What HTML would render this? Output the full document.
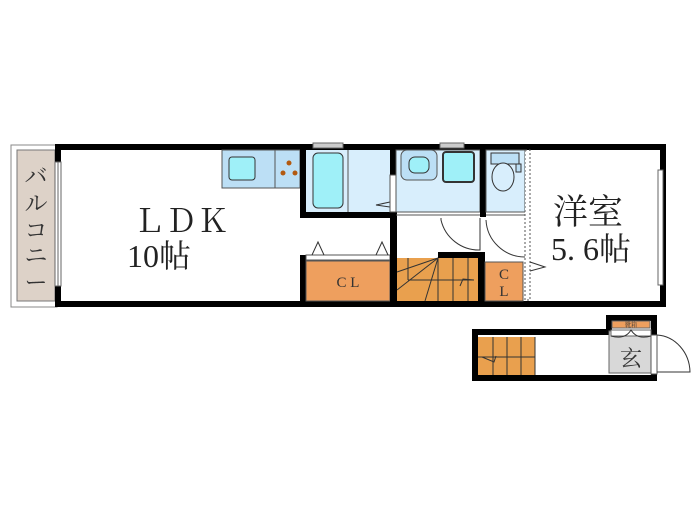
<!DOCTYPE html>
<html><head><meta charset="utf-8"><style>body{margin:0;background:#fff}svg{display:block}text{font-family:"Liberation Serif","Noto Serif CJK SC",serif}</style></head><body>
<svg width="700" height="525" viewBox="0 0 700 525" xmlns="http://www.w3.org/2000/svg">
<rect x="11" y="145" width="46" height="162" fill="#fff" stroke="#888" stroke-width="1"/>
<rect x="17" y="150" width="38" height="151" fill="#ddd2c8" stroke="#777" stroke-width="1"/>
<text font-size="23" fill="#333" text-anchor="middle"><tspan x="36" y="184">バ</tspan><tspan x="36" y="211">ル</tspan><tspan x="36" y="238">コ</tspan><tspan x="36" y="263">ニ</tspan><tspan x="36" y="290">ー</tspan></text>
<rect x="58" y="147" width="605" height="157" fill="#fff" stroke="#000" stroke-width="6"/>
<rect x="55" y="162" width="6" height="124" fill="#fff" stroke="#666" stroke-width="1"/>
<line x1="58" y1="162" x2="58" y2="286" stroke="#666"/>
<rect x="222" y="150" width="78" height="38" fill="#bcdff5" stroke="#555"/>
<line x1="275" y1="150" x2="275" y2="188" stroke="#555"/>
<rect x="229" y="157" width="26" height="23" rx="3" fill="#9ff0f8" stroke="#333"/>
<circle cx="289" cy="163" r="2.5" fill="#b35a10"/><circle cx="283" cy="173" r="2.5" fill="#b35a10"/><circle cx="295" cy="173" r="2.5" fill="#b35a10"/>
<rect x="306" y="150" width="84" height="62" fill="#d8eefc"/>
<rect x="313" y="153" width="30" height="55" rx="5" fill="#9ff0f8" stroke="#333"/>
<line x1="348" y1="150" x2="348" y2="212" stroke="#555"/>
<polyline points="390,207 376,205 390,202" fill="none" stroke="#333"/>
<rect x="300" y="147" width="6" height="70" fill="#000"/>
<rect x="300" y="212" width="97" height="6" fill="#000"/>
<rect x="390" y="147" width="6" height="28" fill="#000"/>
<rect x="390" y="175" width="6" height="37" fill="#fff" stroke="#555"/>
<rect x="396" y="150" width="84" height="62" fill="#d8eefc" stroke="#555"/>
<rect x="401" y="150" width="36" height="30" rx="6" fill="#bcdff5" stroke="#555"/>
<rect x="409" y="157" width="20" height="16" rx="6" fill="#9ff0f8" stroke="#333"/>
<rect x="443" y="152" width="31" height="30" rx="3" fill="#9ff0f8" stroke="#333" stroke-width="2"/>
<rect x="480" y="147" width="6" height="70" fill="#000"/>
<line x1="396" y1="215" x2="480" y2="215" stroke="#555"/>
<rect x="486" y="150" width="39" height="62" fill="#d8eefc" stroke="#555"/>
<rect x="491" y="153" width="28" height="11" fill="#bcdff5" stroke="#333"/>
<ellipse cx="503" cy="177" rx="11" ry="14" fill="#d8eefc" stroke="#333"/>
<rect x="516" y="164" width="5" height="8" fill="#bcdff5" stroke="#333"/>
<rect x="525" y="150" width="5" height="150" fill="#fff" stroke="#555" stroke-dasharray="2,2"/>
<line x1="486" y1="215" x2="525" y2="215" stroke="#555"/>
<path d="M441 218 L441 220 A39 39 0 0 0 480 250 L480 218" fill="none" stroke="#333"/>
<path d="M486 220 A39 39 0 0 0 525 257" fill="none" stroke="#333"/>
<rect x="313" y="143" width="30" height="5" fill="#ccc" stroke="#666"/>
<rect x="440" y="143" width="24" height="5" fill="#ccc" stroke="#666"/>
<rect x="658" y="170" width="5" height="115" fill="#fff" stroke="#666"/>
<rect x="300" y="255" width="6" height="50" fill="#000"/>
<rect x="306" y="255" width="84" height="5" fill="#fff" stroke="#555"/>
<rect x="306" y="261" width="84" height="40" fill="#ee9f5e" stroke="#555"/>
<polyline points="312,255 318,242 324,255" fill="none" stroke="#333"/>
<polyline points="376,255 382,242 388,255" fill="none" stroke="#333"/>
<text x="348" y="287" font-size="15" text-anchor="middle" fill="#333">C L</text>
<rect x="390" y="218" width="7" height="87" fill="#000"/>
<rect x="438" y="252" width="47" height="6" fill="#000"/>
<rect x="397" y="258" width="81" height="43" fill="#e9a04e"/>
<g stroke="#333" stroke-width="1" fill="none"><line x1="438" y1="258" x2="438" y2="301"/><line x1="453" y1="258" x2="453" y2="301"/><line x1="468" y1="258" x2="468" y2="301"/><line x1="408" y1="258" x2="408" y2="280"/><line x1="408" y1="280" x2="474" y2="280"/><line x1="397" y1="272" x2="438" y2="258"/><line x1="397" y1="290" x2="438" y2="258"/><line x1="425" y1="301" x2="438" y2="258"/><polyline points="460,286 463,279 474,280"/></g>
<rect x="478" y="258" width="7" height="47" fill="#000"/>
<rect x="485" y="262" width="38" height="39" fill="#ee9f5e" stroke="#555"/>
<text x="504" y="279" font-size="15" text-anchor="middle" fill="#333">C</text>
<text x="504" y="296" font-size="15" text-anchor="middle" fill="#333">L</text>
<polyline points="530,262 545,267 530,271" fill="none" stroke="#333"/>
<text x="133" y="232" font-size="32" fill="#222" textLength="96" lengthAdjust="spacingAndGlyphs">ＬＤＫ</text>
<text x="127" y="267" font-size="32" fill="#222">10帖</text>
<text x="553" y="224" font-size="35" fill="#222">洋室</text>
<text x="551" y="260" font-size="32" fill="#222">5. 6帖</text>
<rect x="475" y="332" width="179" height="46" fill="#fff" stroke="#000" stroke-width="6"/>
<rect x="609" y="318" width="45" height="20" fill="#fff" stroke="#000" stroke-width="6"/>
<rect x="478" y="335" width="173" height="40" fill="#fff"/>
<rect x="612" y="321" width="39" height="14" fill="#fff"/>
<rect x="612" y="321" width="38" height="7" fill="#ee9f5e" stroke="#666"/>
<text x="631" y="327" font-size="6" text-anchor="middle" fill="#333">靴箱</text>
<rect x="609" y="331" width="42" height="42" fill="#d8d8d8" stroke="#666"/>
<rect x="611" y="330" width="40" height="6" fill="#fff" stroke="#666"/>
<path d="M611 336 Q625 340 631 330 Q637 340 651 336" fill="none" stroke="#333"/>
<text x="631" y="366" font-size="22" text-anchor="middle" fill="#333">玄</text>
<rect x="478" y="337" width="57" height="38" fill="#e9a04e"/>
<g stroke="#333" fill="none"><line x1="493" y1="337" x2="493" y2="375"/><line x1="507" y1="337" x2="507" y2="375"/><line x1="521" y1="337" x2="521" y2="375"/><line x1="535" y1="337" x2="535" y2="375"/><line x1="478" y1="357" x2="535" y2="357"/><polyline points="482,357 494,362 496,356"/></g>
<rect x="651" y="335" width="6" height="39" fill="#fff" stroke="#555"/>
<path d="M657 335 A35 38 0 0 1 690 372 L657 372" fill="none" stroke="#333"/>
</svg>
</body></html>
